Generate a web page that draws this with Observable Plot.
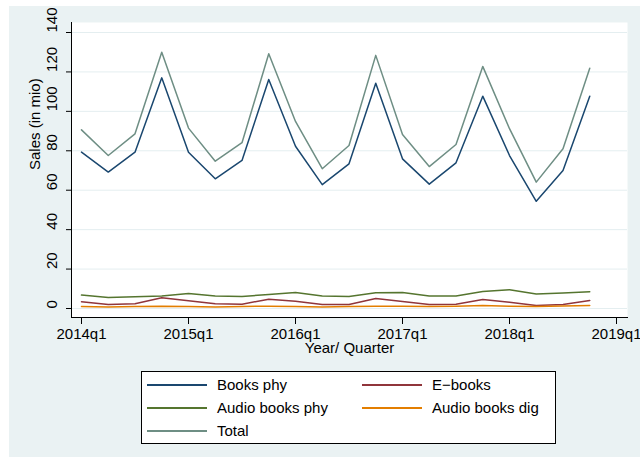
<!DOCTYPE html>
<html>
<head>
<meta charset="utf-8">
<script src="https://cdn.jsdelivr.net/npm/d3@7"></script>
<script src="https://cdn.jsdelivr.net/npm/@observablehq/plot@0.6"></script>
<style>
  html, body { margin: 0; padding: 0; background: #ffffff; }
  body { width: 640px; height: 462px; position: relative; overflow: hidden;
         font-family: "Liberation Sans", Arial, Helvetica, sans-serif; }
  #wrap { position: absolute; left: 9px; top: 6px; width: 631px; height: 451px; background: #eaf2f3; }
  #chart { position: absolute; left: 0; top: 0; }
  #legend { position: absolute; left: 132px; top: 365px; width: 413px; height: 71px;
            background: #ffffff; border: 1px solid #000; }
  .item { position: absolute; height: 20px; }
  .swatch { position: absolute; top: 9px; width: 60px; height: 2px; }
  .lab { position: absolute; left: 70px; top: 0; font-size: 15px; line-height: 20px; color: #000; white-space: nowrap; }
</style>
</head>
<body>
<div id="wrap">
  <div id="chart"></div>
  <div id="legend"></div>
</div>
<script>
// ---- data ----
const quarters = ["2014q1","2014q2","2014q3","2014q4","2015q1","2015q2","2015q3","2015q4",
                  "2016q1","2016q2","2016q3","2016q4","2017q1","2017q2","2017q3","2017q4",
                  "2018q1","2018q2","2018q3","2018q4"];
const booksPhy   = [79.3, 69.2, 79.3, 117.0, 79.3, 65.8, 75.1, 116.2, 82.3, 62.8, 73.4, 114.3, 75.9, 63.1, 73.9, 107.7, 77.6, 54.4, 70.0, 107.7];
const eBooks     = [3.4, 2.0, 2.4, 5.4, 3.9, 2.4, 2.2, 4.7, 3.7, 2.0, 2.0, 5.1, 3.6, 2.0, 2.2, 4.6, 3.2, 1.5, 2.0, 4.1];
const audioPhy   = [6.8, 5.6, 5.9, 6.4, 7.6, 6.3, 6.1, 7.1, 8.1, 6.3, 6.1, 8.0, 8.1, 6.3, 6.3, 8.6, 9.5, 7.3, 7.8, 8.5];
const audioDig   = [1.0, 0.8, 1.0, 1.2, 1.0, 0.8, 1.0, 1.2, 1.0, 0.8, 1.0, 1.2, 1.1, 1.0, 1.2, 1.5, 1.2, 1.0, 1.3, 1.5];
const total      = [90.6, 77.6, 88.6, 130.0, 91.5, 74.7, 84.1, 129.2, 94.9, 70.9, 82.7, 128.4, 88.3, 72.0, 83.2, 122.8, 91.2, 64.1, 81.0, 121.9];

const seriesNames  = ["Books phy", "E\u2212books", "Audio books phy", "Audio books dig", "Total"];
const seriesValues = [booksPhy, eBooks, audioPhy, audioDig, total];
const seriesColors = ["#1a476f", "#90353b", "#55752f", "#e37e00", "#6e8e84"];

const xTickPos    = [0, 4, 8, 12, 16, 20];
const xTickLabels = ["2014q1", "2015q1", "2016q1", "2017q1", "2018q1", "2019q1"];
const yTicks      = [0, 20, 40, 60, 80, 100, 120, 140];

// ---- long table ----
const rows = [];
seriesNames.forEach((name, i) => {
  seriesValues[i].forEach((v, t) => rows.push({series: name, t, q: quarters[t], v}));
});

const font = "Liberation Sans, Arial, Helvetica, sans-serif";

const chart = Plot.plot({
  width: 631,
  height: 360,
  marginLeft: 62,
  marginRight: 13,
  marginTop: 16,
  marginBottom: 49,
  style: {background: "transparent", fontFamily: font, fontSize: "15px", color: "#000"},
  x: {domain: [0, 20], insetLeft: 10, insetRight: 11},
  y: {domain: [0, 140], insetTop: 10, insetBottom: 9},
  color: {domain: seriesNames, range: seriesColors},
  marks: [
    Plot.frame({fill: "#ffffff"}),
    Plot.gridY(yTicks, {stroke: "#e4eef0", strokeOpacity: 1, strokeWidth: 1}),
    Plot.line(rows, {x: "t", y: "v", z: "series", stroke: "series", strokeWidth: 1.5}),
    Plot.frame({anchor: "left", stroke: "#000", strokeWidth: 1}),
    Plot.frame({anchor: "bottom", stroke: "#000", strokeWidth: 1}),
    Plot.axisY({ticks: yTicks, tickSize: 5, tickFormat: () => "", label: null, stroke: "#000"}),
    Plot.text(yTicks, {y: d => d, text: d => String(d), frameAnchor: "left", dx: -19, rotate: -90, fontSize: 15, fill: "#000"}),
    Plot.axisX({ticks: xTickPos, tickSize: 7, tickPadding: 4, fontSize: 15, label: null,
                tickFormat: d => xTickLabels[xTickPos.indexOf(d)], stroke: "#000", fill: "#000"}),
    Plot.text(["Year/ Quarter"], {frameAnchor: "bottom", dy: 35, fontSize: 15, fill: "#000"}),
    Plot.text(["Sales (in mio)"], {frameAnchor: "left", dx: -36, rotate: -90, fontSize: 15, fill: "#000"})
  ]
});
document.getElementById("chart").appendChild(chart);

// ---- legend ----
const legend = document.getElementById("legend");
const cols = [5, 220];
const rowTops = [3, 26, 49];
seriesNames.forEach((name, i) => {
  const item = document.createElement("div");
  item.className = "item";
  item.style.left = cols[i % 2] + "px";
  item.style.top = rowTops[Math.floor(i / 2)] + "px";
  const sw = document.createElement("div");
  sw.className = "swatch";
  sw.style.background = seriesColors[i];
  const lab = document.createElement("div");
  lab.className = "lab";
  lab.textContent = name;
  item.appendChild(sw);
  item.appendChild(lab);
  legend.appendChild(item);
});
</script>
</body>
</html>
